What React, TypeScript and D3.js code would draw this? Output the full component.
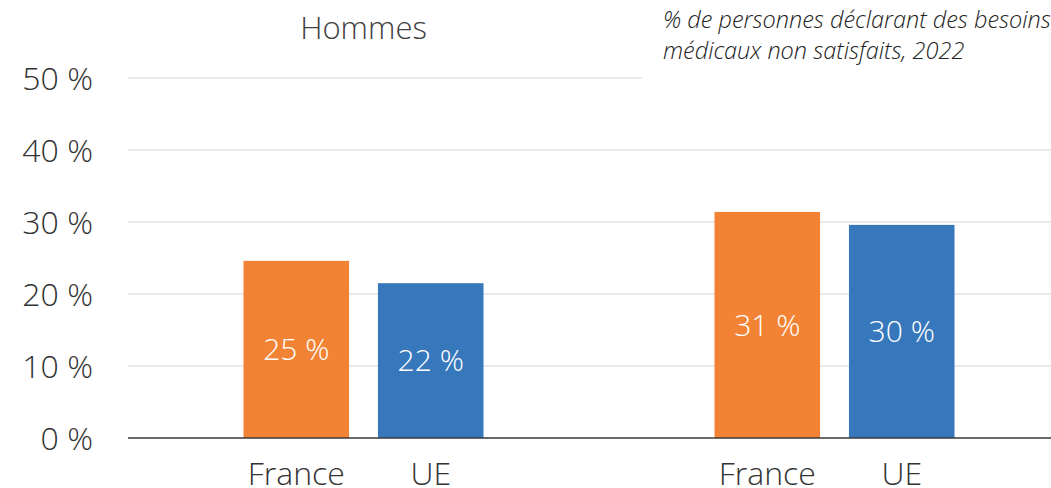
import { useEffect, useRef } from "react";
import * as d3 from "d3";

const WIDTH = 1051;
const HEIGHT = 488;
const MARGIN = { top: 78, right: -19, bottom: 50, left: 128 };

// data
const groups = ["Hommes", "Femmes"];
const countries = ["France", "UE"];
const france = [24.6, 31.4];
const ue = [21.5, 29.6];
const valueLabels = [["25 %", "22 %"], ["31 %", "30 %"]];
const yTicks = [0, 10, 20, 30, 40, 50];
const note = ["% de personnes déclarant des besoins", "médicaux non satisfaits, 2022"];

const COLORS: Record<string, string> = { France: "#F28335", UE: "#3777BC" };
const FONT = "'Open Sans', 'Noto Sans', sans-serif";

export default function App() {
  const ref = useRef<SVGSVGElement>(null);

  useEffect(() => {
    const svg = d3.select(ref.current);
    svg.selectAll("*").remove();

    const x0 = d3.scaleBand().domain(groups).range([MARGIN.left, WIDTH - MARGIN.right]);
    const x1 = d3
      .scaleBand()
      .domain(countries)
      .range([-120, 120])
      .paddingInner(0.215);
    const y = d3.scaleLinear().domain([0, 50]).range([HEIGHT - MARGIN.bottom, MARGIN.top]);

    // gridlines
    svg
      .append("g")
      .selectAll("line")
      .data(yTicks.filter((t) => t > 0))
      .join("line")
      .attr("x1", MARGIN.left)
      .attr("x2", WIDTH - MARGIN.right)
      .attr("y1", (d) => y(d))
      .attr("y2", (d) => y(d))
      .attr("stroke", "#e3e3e3")
      .attr("stroke-width", 1.5);

    // y tick labels
    svg
      .append("g")
      .selectAll("text")
      .data(yTicks)
      .join("text")
      .attr("x", 93)
      .attr("y", (d) => y(d))
      .attr("dy", "0.36em")
      .attr("text-anchor", "end")
      .attr("font-family", FONT)
      .attr("font-size", 32)
      .attr("font-weight", 300)
      .attr("fill", "#333")
      .text((d) => `${d} %`);

    const rows = groups.map((g, i) => ({
      group: g,
      values: [
        { key: "France", value: france[i], label: valueLabels[i][0] },
        { key: "UE", value: ue[i], label: valueLabels[i][1] },
      ],
    }));

    const gGroups = svg
      .append("g")
      .selectAll("g")
      .data(rows)
      .join("g")
      .attr("transform", (d) => `translate(${x0(d.group)! + x0.bandwidth() / 2},0)`);

    gGroups
      .selectAll("rect")
      .data((d) => d.values)
      .join("rect")
      .attr("x", (d) => x1(d.key)!)
      .attr("width", x1.bandwidth())
      .attr("y", (d) => y(d.value))
      .attr("height", (d) => y(0) - y(d.value))
      .attr("fill", (d) => COLORS[d.key]);

    gGroups
      .selectAll("text.val")
      .data((d) => d.values)
      .join("text")
      .attr("class", "val")
      .attr("x", (d) => x1(d.key)! + x1.bandwidth() / 2)
      .attr("y", (d) => (y(d.value) + y(0)) / 2)
      .attr("dy", "0.36em")
      .attr("text-anchor", "middle")
      .attr("font-family", FONT)
      .attr("font-size", 30)
      .attr("font-weight", 300)
      .attr("fill", "#fff")
      .text((d) => d.label);

    gGroups
      .selectAll("text.cat")
      .data((d) => d.values)
      .join("text")
      .attr("class", "cat")
      .attr("x", (d) => x1(d.key)! + x1.bandwidth() / 2)
      .attr("y", 485)
      .attr("text-anchor", "middle")
      .attr("font-family", FONT)
      .attr("font-size", 32)
      .attr("font-weight", 300)
      .attr("fill", "#333")
      .text((d) => d.key);

    // baseline
    svg
      .append("line")
      .attr("x1", MARGIN.left)
      .attr("x2", WIDTH - MARGIN.right)
      .attr("y1", y(0))
      .attr("y2", y(0))
      .attr("stroke", "#3a3a3a")
      .attr("stroke-width", 1.5);

    // panel title
    svg
      .append("text")
      .attr("x", x0("Hommes")! + x0.bandwidth() / 2)
      .attr("y", 39)
      .attr("text-anchor", "middle")
      .attr("font-family", FONT)
      .attr("font-size", 31)
      .attr("font-weight", 300)
      .attr("fill", "#404040")
      .text("Hommes");

    // note box
    svg
      .append("rect")
      .attr("x", 642)
      .attr("y", 0)
      .attr("width", WIDTH - 642)
      .attr("height", 82)
      .attr("fill", "#fff");
    svg
      .append("g")
      .selectAll("text")
      .data(note)
      .join("text")
      .attr("x", 663)
      .attr("y", (_, i) => 28 + i * 31)
      .attr("font-family", FONT)
      .attr("font-size", 23.5)
      .attr("font-weight", 300)
      .attr("font-style", "italic")
      .attr("fill", "#222")
      .text((d) => d);
  }, []);

  return (
    <div style={{ position: "absolute", left: 0, top: 0 }}>
      <svg ref={ref} width={WIDTH} height={HEIGHT} style={{ display: "block" }} />
    </div>
  );
}
